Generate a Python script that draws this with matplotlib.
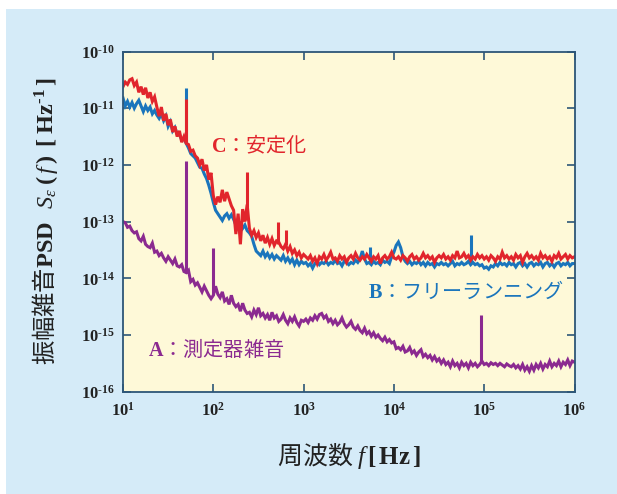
import matplotlib
matplotlib.use("Agg")
import matplotlib.pyplot as plt
from matplotlib.patches import Rectangle
from matplotlib.ticker import FixedLocator, FuncFormatter, NullLocator
import numpy as np

plt.rcParams['font.family'] = ['Noto Sans CJK JP', 'DejaVu Sans']
plt.rcParams['mathtext.fontset'] = 'custom'
plt.rcParams['mathtext.rm'] = 'Liberation Serif:bold'
plt.rcParams['mathtext.bf'] = 'Liberation Serif:bold'
plt.rcParams['mathtext.it'] = 'Liberation Serif:italic'

# frequency grid, log10(f / Hz)
log_f = [1.000, 1.025, 1.050, 1.075, 1.100, 1.125, 1.150, 1.175, 1.200, 1.225,
         1.250, 1.275, 1.300, 1.325, 1.350, 1.375, 1.400, 1.425, 1.450, 1.475,
         1.500, 1.525, 1.550, 1.575, 1.600, 1.625, 1.650, 1.675, 1.700, 1.725,
         1.750, 1.775, 1.800, 1.825, 1.850, 1.875, 1.900, 1.925, 1.950, 1.975,
         2.000, 2.025, 2.050, 2.075, 2.100, 2.125, 2.150, 2.175, 2.200, 2.225,
         2.250, 2.275, 2.300, 2.325, 2.350, 2.375, 2.400, 2.425, 2.450, 2.475,
         2.500, 2.525, 2.550, 2.575, 2.600, 2.625, 2.650, 2.675, 2.700, 2.725,
         2.750, 2.775, 2.800, 2.825, 2.850, 2.875, 2.900, 2.925, 2.950, 2.975,
         3.000,
         3.025, 3.050, 3.075, 3.100, 3.125, 3.150, 3.175, 3.200, 3.225, 3.250,
         3.275, 3.300, 3.325, 3.350, 3.375, 3.400, 3.425, 3.450, 3.475, 3.500,
         3.525, 3.550, 3.575, 3.600, 3.625, 3.650, 3.675, 3.700, 3.725, 3.750,
         3.775, 3.800, 3.825, 3.850, 3.875, 3.900, 3.925, 3.950, 3.975, 4.000,
         4.025, 4.050, 4.075, 4.100, 4.125, 4.150, 4.175, 4.200, 4.225, 4.250,
         4.275, 4.300, 4.325, 4.350, 4.375, 4.400, 4.425, 4.450, 4.475, 4.500,
         4.525, 4.550, 4.575, 4.600, 4.625, 4.650, 4.675, 4.700, 4.725, 4.750,
         4.775, 4.800, 4.825, 4.850, 4.875, 4.900, 4.925, 4.950, 4.975, 5.000,
         5.025, 5.050, 5.075, 5.100, 5.125, 5.150, 5.175, 5.200, 5.225, 5.250,
         5.275, 5.300, 5.325, 5.350, 5.375, 5.400, 5.425, 5.450, 5.475, 5.500,
         5.525, 5.550, 5.575, 5.600, 5.625, 5.650, 5.675, 5.700, 5.725, 5.750,
         5.775, 5.800, 5.825, 5.850, 5.875, 5.900, 5.925, 5.950, 5.975, 6.000]

# log10 PSD [1/Hz]
# A: measurement-instrument noise
psd_A = [-13.00, -13.02, -13.10, -13.08, -13.16, -13.20, -13.18, -13.30, -13.34, -13.26,
         -13.40, -13.44, -13.46, -13.38, -13.54, -13.52, -13.60, -13.56, -13.64, -13.70,
         -13.62, -13.68, -13.74, -13.66, -13.78, -13.80, -13.76, -13.88, -13.90, -13.86,
         -14.06, -14.02, -14.12, -14.08, -14.16, -14.24, -14.14, -14.22, -14.30, -14.36,
         -14.30, -14.14, -14.28, -14.34, -14.24, -14.40, -14.36, -14.46, -14.30, -14.44,
         -14.50, -14.46, -14.58, -14.44, -14.56, -14.62, -14.60, -14.68, -14.56, -14.64,
         -14.52, -14.66, -14.62, -14.70, -14.64, -14.74, -14.60, -14.70, -14.66, -14.76,
         -14.72, -14.64, -14.74, -14.80, -14.70, -14.76, -14.68, -14.78, -14.84, -14.74,
         -14.76,
         -14.72, -14.78, -14.70, -14.74, -14.66, -14.72, -14.64, -14.62, -14.70, -14.66,
         -14.76, -14.72, -14.80, -14.74, -14.82, -14.78, -14.70, -14.80, -14.86, -14.82,
         -14.76, -14.86, -14.90, -14.84, -14.92, -14.96, -14.88, -14.98, -14.94, -15.02,
         -14.96, -15.04, -15.00, -15.06, -15.10, -15.04, -15.12, -15.08, -15.14, -15.12,
         -15.24, -15.22, -15.26, -15.20, -15.30, -15.28, -15.22, -15.32, -15.28, -15.36,
         -15.30, -15.26, -15.38, -15.34, -15.40, -15.36, -15.44, -15.38, -15.46, -15.42,
         -15.50, -15.44, -15.52, -15.48, -15.56, -15.46, -15.54, -15.50, -15.58, -15.48,
         -15.54, -15.50, -15.58, -15.48, -15.54, -15.50, -15.56, -15.52, -15.46, -15.52,
         -15.50, -15.54, -15.49, -15.52, -15.50, -15.54, -15.50, -15.53, -15.56, -15.51,
         -15.54, -15.56, -15.52, -15.58, -15.54, -15.60, -15.52, -15.62, -15.56, -15.64,
         -15.54, -15.62, -15.52, -15.58, -15.50, -15.60, -15.52, -15.56, -15.46, -15.56,
         -15.50, -15.54, -15.46, -15.56, -15.48, -15.52, -15.44, -15.54, -15.46, -15.48]

# B: free running
psd_B = [-10.82, -10.96, -10.88, -10.98, -10.90, -11.00, -10.92, -10.86, -10.96, -11.06,
         -10.96, -11.04, -10.98, -11.10, -11.04, -11.12, -11.18, -11.10, -11.22, -11.14,
         -11.32, -11.24, -11.40, -11.34, -11.46, -11.46, -11.56, -11.54, -11.62, -11.70,
         -11.80, -11.84, -11.88, -11.96, -12.04, -12.06, -12.16, -12.24, -12.36, -12.50,
         -12.66, -12.80, -12.86, -12.92, -12.98, -12.90, -12.86, -12.94, -12.88, -12.96,
         -13.06, -13.10, -13.04, -13.12, -13.06, -13.16, -13.20, -13.26, -13.40, -13.52,
         -13.56, -13.60, -13.52, -13.62, -13.56, -13.64, -13.58, -13.66, -13.60, -13.64,
         -13.68, -13.60, -13.70, -13.64, -13.72, -13.66, -13.76, -13.68, -13.76, -13.70,
         -13.74,
         -13.72, -13.78, -13.74, -13.82, -13.74, -13.70, -13.76, -13.72, -13.74, -13.70,
         -13.76, -13.72, -13.74, -13.68, -13.74, -13.72, -13.78, -13.70, -13.72, -13.76,
         -13.72, -13.74, -13.68, -13.72, -13.66, -13.52, -13.66, -13.74, -13.72, -13.76,
         -13.70, -13.74, -13.72, -13.76, -13.68, -13.72, -13.70, -13.74, -13.62, -13.54,
         -13.42, -13.36, -13.46, -13.62, -13.70, -13.74, -13.70, -13.76, -13.72, -13.74,
         -13.70, -13.76, -13.72, -13.78, -13.72, -13.76, -13.74, -13.80, -13.74, -13.76,
         -13.72, -13.76, -13.74, -13.78, -13.74, -13.70, -13.78, -13.74, -13.76, -13.72,
         -13.76, -13.74, -13.70, -13.76, -13.72, -13.76, -13.74, -13.78, -13.76, -13.82,
         -13.80, -13.84, -13.78, -13.80, -13.74, -13.78, -13.72, -13.76, -13.74, -13.78,
         -13.72, -13.76, -13.74, -13.80, -13.74, -13.72, -13.78, -13.74, -13.80, -13.74,
         -13.72, -13.78, -13.74, -13.76, -13.72, -13.80, -13.74, -13.72, -13.78, -13.74,
         -13.80, -13.74, -13.72, -13.78, -13.74, -13.76, -13.72, -13.78, -13.74, -13.74]

# C: stabilised
psd_C = [-10.62, -10.54, -10.58, -10.50, -10.48, -10.60, -10.54, -10.72, -10.62, -10.76,
         -10.64, -10.82, -10.72, -10.88, -10.80, -10.98, -11.14, -10.98, -11.22, -11.10,
         -11.30, -11.20, -11.42, -11.32, -11.50, -11.40, -11.60, -11.50, -11.62, -11.64,
         -11.76, -11.74, -11.84, -11.88, -12.00, -11.90, -12.10, -12.00, -12.26, -12.14,
         -12.54, -12.70, -12.56, -12.66, -12.44, -12.64, -12.48, -12.60, -12.72, -12.80,
         -13.22, -12.86, -13.40, -12.78, -13.00, -12.70, -13.12, -13.24, -13.16, -13.28,
         -13.20, -13.34, -13.24, -13.38, -13.28, -13.40, -13.30, -13.42, -13.34, -13.36,
         -13.44, -13.48, -13.40, -13.52, -13.44, -13.56, -13.50, -13.60, -13.54, -13.64,
         -13.58,
         -13.62, -13.66, -13.60, -13.70, -13.64, -13.74, -13.62, -13.66, -13.58, -13.68,
         -13.62, -13.54, -13.66, -13.64, -13.70, -13.60, -13.66, -13.62, -13.72, -13.64,
         -13.60, -13.66, -13.56, -13.64, -13.68, -13.62, -13.66, -13.58, -13.64, -13.70,
         -13.62, -13.66, -13.60, -13.74, -13.64, -13.60, -13.66, -13.62, -13.54, -13.64,
         -13.66, -13.62, -13.68, -13.60, -13.64, -13.70, -13.62, -13.58, -13.66, -13.62,
         -13.68, -13.64, -13.56, -13.64, -13.60, -13.66, -13.62, -13.72, -13.64, -13.60,
         -13.64, -13.58, -13.66, -13.62, -13.68, -13.60, -13.64, -13.52, -13.64, -13.62,
         -13.56, -13.64, -13.60, -13.68, -13.62, -13.66, -13.58, -13.64, -13.60, -13.66,
         -13.62, -13.68, -13.60, -13.64, -13.70, -13.62, -13.66, -13.54, -13.64, -13.60,
         -13.66, -13.62, -13.68, -13.58, -13.64, -13.60, -13.72, -13.62, -13.56, -13.64,
         -13.60, -13.66, -13.62, -13.68, -13.56, -13.64, -13.60, -13.66, -13.62, -13.70,
         -13.60, -13.64, -13.56, -13.66, -13.62, -13.58, -13.66, -13.60, -13.64, -13.62]

# narrow line spikes (log10 f, log10 base, log10 top)
spike_A_f = [1.699, 2.000, 4.970]
spike_A_lo = [-13.88, -14.30, -15.50]
spike_A_hi = [-11.93, -13.47, -14.65]
spike_B_f = [1.699, 3.730, 4.850]
spike_B_lo = [-11.62, -13.72, -13.72]
spike_B_hi = [-10.65, -13.44, -13.24]
spike_C_f = [1.699, 2.372, 2.720, 2.800]
spike_C_lo = [-11.60, -12.98, -13.40, -13.42]
spike_C_hi = [-10.83, -12.12, -13.00, -13.15]

decades = [1, 2, 3, 4, 5, 6]
y_decades = [-16, -15, -14, -13, -12, -11, -10]

c_A = '#8b2a90'
c_B = '#1a75bc'
c_C = '#e1252c'
spine_c = '#2d5677'

fig = plt.figure(figsize=(6.17, 4.94), dpi=100, facecolor='white')
fig.patches.append(Rectangle((6 / 617, 0), 1, 1 - 9 / 494, transform=fig.transFigure,
                             facecolor='#d5ebf8', edgecolor='none', zorder=-10))
ax = fig.add_axes([123 / 617, 1 - 391.7 / 494, 451.5 / 617, 340.2 / 494])
ax.set_facecolor('#fef9d8')

f = 10 ** np.array(log_f)
lw = 2.2
for vals, sf, slo, shi, col in [(psd_A, spike_A_f, spike_A_lo, spike_A_hi, c_A),
                                (psd_B, spike_B_f, spike_B_lo, spike_B_hi, c_B),
                                (psd_C, spike_C_f, spike_C_lo, spike_C_hi, c_C)]:
    ax.plot(f, 10 ** np.array(vals), color=col, lw=lw, solid_joinstyle='miter')
    ax.vlines(10 ** np.array(sf), 10 ** np.array(slo), 10 ** np.array(shi), color=col, lw=lw)

ax.set_xscale('log')
ax.set_yscale('log')
ax.set_xlim(10, 1e6)
ax.set_ylim(1e-16, 1e-10)

ax.xaxis.set_major_locator(FixedLocator([10.0 ** d for d in decades]))
ax.yaxis.set_major_locator(FixedLocator([10.0 ** d for d in y_decades]))
ax.xaxis.set_minor_locator(NullLocator())
ax.yaxis.set_minor_locator(NullLocator())


def sci(v, pos):
    e = int(round(np.log10(v)))
    if e < 0:
        return r'$10^{\text{-}%d}$' % (-e)
    return r'$10^{%d}$' % e


ax.xaxis.set_major_formatter(FuncFormatter(sci))
ax.yaxis.set_major_formatter(FuncFormatter(sci))
ax.tick_params(which='both', direction='in', top=True, right=True, length=6, width=1.2,
               color=spine_c, labelsize=12, labelcolor='#222222')
ax.tick_params(axis='x', pad=7)
ax.tick_params(axis='y', pad=6)
for s in ax.spines.values():
    s.set_color(spine_c)
    s.set_linewidth(1.3)

ax.set_ylabel(r'振幅雑音$\mathbf{PSD}$ $\;\,S_{\varepsilon}\;(\,f\,)\;\;[\;\mathbf{Hz}^{\text{-}1}\,]$',
              fontsize=17.5, color='#222222')
ax.yaxis.set_label_coords(-0.14, 0.5)
ax.set_xlabel(r'周波数 $f\,[\,\mathbf{Hz}\,]$', fontsize=18, color='#222222')
ax.xaxis.set_label_coords(0.5, -0.145)

ax.text(0.196, 0.725, r'$\mathbf{C}$：安定化', transform=ax.transAxes, color=c_C,
        fontsize=14.5, ha='left', va='center')
ax.text(0.543, 0.294, r'$\mathbf{B}$：フリーランニング', transform=ax.transAxes, color=c_B,
        fontsize=14.5, ha='left', va='center')
ax.text(0.056, 0.125, r'$\mathbf{A}$：測定器雑音', transform=ax.transAxes, color=c_A,
        fontsize=14.5, ha='left', va='center')

fig.savefig('out.png', dpi=100, facecolor=fig.get_facecolor())
